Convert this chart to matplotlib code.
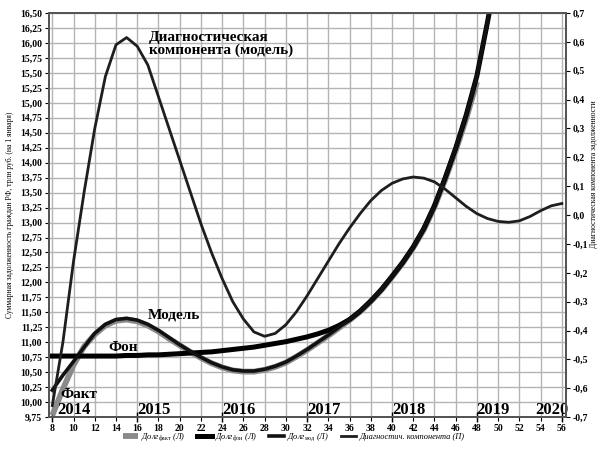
import matplotlib
matplotlib.use("Agg")
import matplotlib.pyplot as plt
from matplotlib.ticker import FuncFormatter, MultipleLocator

plt.rcParams['font.family'] = ['Liberation Serif', 'DejaVu Serif']
plt.rcParams['mathtext.fontset'] = 'custom'
plt.rcParams['mathtext.rm'] = 'Liberation Serif'
plt.rcParams['mathtext.it'] = 'Liberation Serif:italic'

# months since start (x axis), debt in trillion rubles (left), diagnostic component (right)
months_mod = list(range(8, 51))
debt_mod = [10.20, 10.45, 10.68, 10.92, 11.15, 11.30, 11.38, 11.40, 11.37, 11.30,
            11.20, 11.08, 10.96, 10.85, 10.75, 10.66, 10.59, 10.54, 10.52, 10.52,
            10.55, 10.60, 10.67, 10.77, 10.88, 11.00, 11.12, 11.25, 11.38, 11.52,
            11.69, 11.88, 12.10, 12.33, 12.59, 12.90, 13.28, 13.74, 14.24, 14.80,
            15.45, 16.35, 17.30]

months_fon = list(range(8, 51))
debt_fon = [10.77, 10.77, 10.77, 10.77, 10.77, 10.77, 10.77, 10.78, 10.78, 10.79,
            10.79, 10.80, 10.81, 10.82, 10.83, 10.84, 10.86, 10.88, 10.90, 10.92,
            10.95, 10.98, 11.01, 11.05, 11.09, 11.14, 11.20, 11.28, 11.38, 11.52,
            11.69, 11.88, 12.10, 12.33, 12.59, 12.90, 13.28, 13.74, 14.24, 14.80,
            15.45, 16.35, 17.30]

months_fact = list(range(8, 49))
debt_fact = [9.78, 10.22, 10.62, 10.93, 11.13, 11.28, 11.36, 11.38, 11.35, 11.28,
             11.18, 11.06, 10.95, 10.84, 10.74, 10.65, 10.58, 10.53, 10.51, 10.51,
             10.54, 10.59, 10.66, 10.76, 10.87, 10.99, 11.11, 11.24, 11.37, 11.51,
             11.68, 11.87, 12.09, 12.32, 12.58, 12.88, 13.26, 13.71, 14.20, 14.74,
             15.35]

months_diag = list(range(8, 57))
diag = [-0.66, -0.44, -0.16, 0.08, 0.30, 0.48, 0.59, 0.615, 0.585, 0.52,
        0.41, 0.30, 0.19, 0.08, -0.03, -0.13, -0.22, -0.30, -0.36, -0.405,
        -0.42, -0.41, -0.38, -0.335, -0.28, -0.22, -0.16, -0.10, -0.045, 0.005,
        0.05, 0.085, 0.11, 0.125, 0.132, 0.128, 0.115, 0.09, 0.06, 0.03,
        0.005, -0.012, -0.022, -0.025, -0.02, -0.005, 0.015, 0.032, 0.04]

years = ['2014', '2015', '2016', '2017', '2018', '2019', '2020']
year_x = [8.5, 16, 24, 32, 40, 47.9, 53.5]
year_ticks = [8, 16, 24, 32, 40, 48, 56]

fig = plt.figure(figsize=(5.99, 4.49), dpi=100)
ax = fig.add_axes([0.082, 0.071, 0.863, 0.900])
ax2 = ax.twinx()

ax.set_xlim(7.7, 56.4)
ax.set_ylim(9.75, 16.5)
ax2.set_ylim(-0.7, 0.7)

ax.xaxis.set_major_locator(MultipleLocator(2))
ax.yaxis.set_major_locator(MultipleLocator(0.25))
ax2.yaxis.set_major_locator(MultipleLocator(0.1))
ax.grid(True, color='#b4b4b4', lw=1.0)
ax.set_axisbelow(True)

ax.plot(months_fact, debt_fact, color='#8a8a8a', lw=4.2, solid_capstyle='butt',
        label='Долг$_{\\mathrm{факт}}$ (Л)')
ax.plot(months_fon, debt_fon, color='black', lw=3.6, label='Долг$_{\\mathrm{фон}}$ (Л)')
ax.plot(months_mod, debt_mod, color='#111111', lw=2.6, label='Долг$_{\\mathrm{мод}}$ (Л)')
ax2.plot(months_diag, diag, color='#1e1e1e', lw=2.0, label='Диагностич. компонента (П)')

fmt_l = FuncFormatter(lambda v, p: f"{v:.2f}".replace('.', ','))
fmt_r = FuncFormatter(lambda v, p: f"{round(v, 1) + 0.0:.1f}".replace('.', ','))
ax.yaxis.set_major_formatter(fmt_l)
ax2.yaxis.set_major_formatter(fmt_r)

for a in (ax, ax2):
    for s in a.spines.values():
        s.set_color('#555555')
        s.set_linewidth(1.4)
    a.tick_params(labelsize=7, length=3, width=0.8, pad=2)
    for lbl in a.get_xticklabels() + a.get_yticklabels():
        lbl.set_fontweight('bold')

# taller marks at the start of each year
ax.xaxis.remove_overlapping_locs = False
ax.set_xticks(year_ticks, minor=True)
ax.tick_params(axis='x', which='minor', direction='inout', length=7, width=1.0)

for y, xv in zip(years, year_x):
    ax.text(xv, 9.80, y, fontsize=12, fontweight='bold', ha='left', va='baseline')

ax.text(17.1, 16.2, 'Диагностическая\nкомпонента (модель)', fontsize=11,
        fontweight='bold', ha='left', va='top', linespacing=1.0)
ax.text(17.0, 11.45, 'Модель', fontsize=11, fontweight='bold', va='center')
ax.text(13.3, 10.91, 'Фон', fontsize=11, fontweight='bold', va='center')
ax.text(8.75, 10.13, 'Факт', fontsize=11, fontweight='bold', va='center')

ax.set_ylabel('Суммарная задолженность граждан РФ, трлн руб. (на 1 января)', fontsize=5.5)
ax.yaxis.set_label_coords(-0.068, 0.5)
ax2.set_ylabel('Диагностическая компонента задолженности', fontsize=5.5)
ax2.yaxis.set_label_coords(1.046, 0.6)

h1, l1 = ax.get_legend_handles_labels()
h2, l2 = ax2.get_legend_handles_labels()
fig.legend(h1 + h2, l1 + l2, loc='center', bbox_to_anchor=(0.49, 0.027), ncol=4,
           frameon=False, handlelength=1.8, handletextpad=0.4,
           columnspacing=1.4, prop={'style': 'italic', 'size': 6})

fig.savefig('out.png', dpi=100)
